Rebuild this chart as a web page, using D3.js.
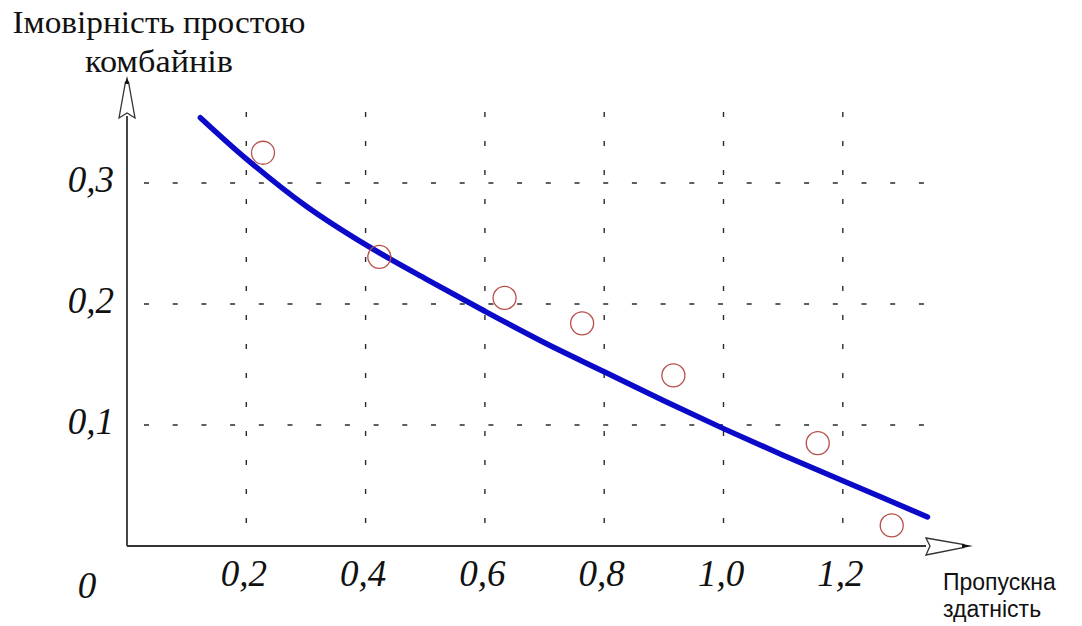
<!DOCTYPE html>
<html>
<head>
<meta charset="utf-8">
<script src="https://cdn.jsdelivr.net/npm/d3@7"></script>
<style>
  html, body { margin: 0; padding: 0; background: #ffffff; }
  svg { display: block; }
</style>
</head>
<body>
<svg id="chart" width="1082" height="626"></svg>
<script>
// Axis ticks and their labels
const xTicks = [0.2, 0.4, 0.6, 0.8, 1.0, 1.2];
const xTickLabels = ["0,2", "0,4", "0,6", "0,8", "1,0", "1,2"];
const yTicks = [0.1, 0.2, 0.3];
const yTickLabels = ["0,1", "0,2", "0,3"];

// Fitted curve: throughput -> probability of harvester idle time
const fitX = [0.123, 0.2, 0.3, 0.4, 0.5, 0.6, 0.7, 0.8, 0.9, 1.0, 1.1, 1.2, 1.342];
const fitY = [0.354, 0.320, 0.281, 0.249, 0.221, 0.194, 0.168, 0.144, 0.120, 0.097, 0.075, 0.054, 0.024];

// Observed points
const obsX = [0.228, 0.423, 0.633, 0.763, 0.916, 1.158, 1.282];
const obsY = [0.325, 0.239, 0.205, 0.184, 0.141, 0.085, 0.017];

const svg = d3.select("#chart");

const x = d3.scaleLinear().domain([0, 1.2]).range([127, 842.8]);
const y = d3.scaleLinear().domain([0, 0.3]).range([546, 183]);

const gridColor = "#2a2a2a";
const axisColor = "#333333";

// Horizontal dashed grid
svg.append("g").selectAll("line").data(yTicks).join("line")
  .attr("x1", 144).attr("x2", 928)
  .attr("y1", d => y(d)).attr("y2", d => y(d))
  .attr("stroke", gridColor).attr("stroke-width", 1.4)
  .attr("stroke-dasharray", "5 23.7");

// Vertical dashed grid
svg.append("g").selectAll("line").data(xTicks).join("line")
  .attr("x1", d => x(d)).attr("x2", d => x(d))
  .attr("y1", 112).attr("y2", 542)
  .attr("stroke", gridColor).attr("stroke-width", 1.4)
  .attr("stroke-dasharray", "5 24");

// Axis lines
const x0 = x(0), y0 = y(0);
const xEnd = 926, yEnd = 116;
svg.append("line").attr("x1", x0).attr("x2", xEnd).attr("y1", y0).attr("y2", y0)
  .attr("stroke", axisColor).attr("stroke-width", 1.8);
svg.append("line").attr("x1", x0).attr("x2", x0).attr("y1", y0).attr("y2", yEnd)
  .attr("stroke", axisColor).attr("stroke-width", 1.8);

// Hollow arrowheads
svg.append("path")
  .attr("d", `M${xEnd},${y0 - 8} L${xEnd + 38},${y0 - 1.5} L${xEnd + 38},${y0 + 1.5} L${xEnd},${y0 + 9} L${xEnd + 4},${y0} Z`)
  .attr("fill", "#fff").attr("stroke", axisColor).attr("stroke-width", 1.3);
svg.append("path")
  .attr("d", `M${xEnd + 36},${y0 - 2} L${xEnd + 47},${y0} L${xEnd + 36},${y0 + 2} Z`)
  .attr("fill", "#111");
svg.append("path")
  .attr("d", `M${x0 - 8},${yEnd + 2} L${x0 - 1.5},${yEnd - 34} L${x0 + 1.5},${yEnd - 34} L${x0 + 8},${yEnd + 2} L${x0},${yEnd - 3} Z`)
  .attr("fill", "#fff").attr("stroke", axisColor).attr("stroke-width", 1.3);
svg.append("path")
  .attr("d", `M${x0 - 2},${yEnd - 32} L${x0},${yEnd - 40} L${x0 + 2},${yEnd - 32} Z`)
  .attr("fill", "#111");

// Tick labels via axes
const serif = "'Liberation Serif', 'DejaVu Serif', 'Times New Roman', serif";
const xAxis = d3.axisBottom(x).tickValues(xTicks)
  .tickFormat((d, i) => xTickLabels[i]).tickSize(0).tickPadding(0);
const gx = svg.append("g").attr("transform", `translate(-3, 586)`).call(xAxis);
gx.select(".domain").remove();
gx.selectAll("text")
  .attr("dy", 0).attr("y", 0)
  .style("font-family", serif).style("font-style", "italic")
  .style("font-size", "37px").attr("fill", "#111");

const yAxis = d3.axisLeft(y).tickValues(yTicks)
  .tickFormat((d, i) => yTickLabels[i]).tickSize(0).tickPadding(0);
const gy = svg.append("g").attr("transform", `translate(114, 8)`).call(yAxis);
gy.select(".domain").remove();
gy.selectAll("text")
  .attr("dy", 0).attr("x", 0)
  .style("font-family", serif).style("font-style", "italic")
  .style("font-size", "37px").attr("fill", "#111");

svg.append("text").attr("x", 87).attr("y", 598).attr("text-anchor", "middle")
  .style("font-family", serif).style("font-style", "italic")
  .style("font-size", "37px").attr("fill", "#111").text("0");

// Fitted curve
const fitData = fitX.map((v, i) => [v, fitY[i]]);
svg.append("path").datum(fitData)
  .attr("d", d3.line().x(d => x(d[0])).y(d => y(d[1])).curve(d3.curveCatmullRom.alpha(0.5)))
  .attr("fill", "none").attr("stroke", "#0a0ac8").attr("stroke-width", 5.5)
  .attr("stroke-linecap", "round");

// Observed points
svg.append("g").selectAll("circle").data(obsX.map((v, i) => [v, obsY[i]])).join("circle")
  .attr("cx", d => x(d[0])).attr("cy", d => y(d[1])).attr("r", 11.5)
  .attr("fill", "none").attr("stroke", "#b8504a").attr("stroke-width", 1.3);

// Axis titles
svg.append("text").attr("text-anchor", "middle")
  .attr("x", 159).attr("y", 33)
  .style("font-family", serif).style("font-size", "31px").attr("fill", "#111")
  .attr("textLength", 293).attr("lengthAdjust", "spacingAndGlyphs")
  .text("Імовірність простою");
svg.append("text").attr("text-anchor", "middle")
  .attr("x", 159).attr("y", 72)
  .style("font-family", serif).style("font-size", "31px").attr("fill", "#111")
  .attr("textLength", 148).attr("lengthAdjust", "spacingAndGlyphs")
  .text("комбайнів");

const xTitle = svg.append("text")
  .style("font-family", "'Liberation Sans', Arial, sans-serif").style("font-size", "23px").attr("fill", "#111");
xTitle.append("tspan").attr("x", 943).attr("y", 590).text("Пропускна");
xTitle.append("tspan").attr("x", 943).attr("y", 617).text("здатність");
</script>
</body>
</html>
